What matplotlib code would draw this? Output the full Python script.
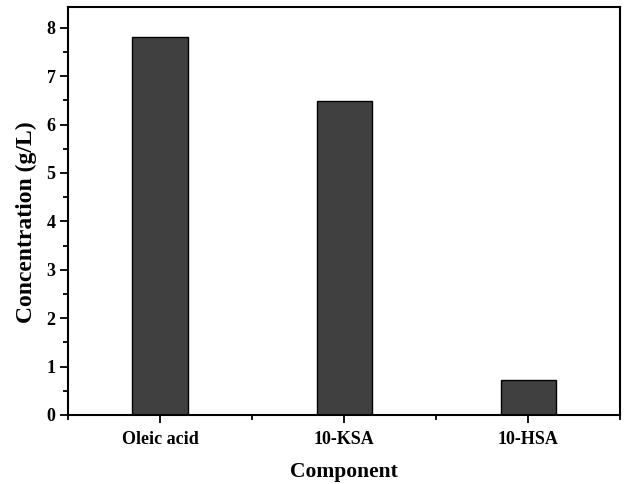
import numpy as np
import matplotlib.pyplot as plt
from matplotlib.ticker import MultipleLocator

components = ["Oleic acid", "10-KSA", "10-HSA"]
conc = [7.8, 6.48, 0.72]

plt.rcParams['font.family'] = 'Liberation Serif'
plt.rcParams['font.weight'] = 'bold'

fig = plt.figure(figsize=(6.24, 4.84), dpi=100)
ax = fig.add_axes([0.109, 0.1426, 0.885, 0.843])

x = np.arange(len(components))
ax.bar(x, conc, width=0.3, color='#404040', edgecolor='black', linewidth=1)

ax.set_xlim(-0.5, 2.5)
ax.set_ylim(0, 8.43)
ax.set_xticks(x)
ax.set_xticklabels(components, fontsize=13, fontweight='bold')
ax.xaxis.set_minor_locator(MultipleLocator(1, offset=0.5))
ax.yaxis.set_major_locator(MultipleLocator(1))
ax.yaxis.set_minor_locator(MultipleLocator(0.5))
for lbl in ax.get_yticklabels():
    lbl.set_fontsize(13)
    lbl.set_fontweight('bold')

ax.tick_params(which='major', direction='out', length=6, width=1.3)
ax.tick_params(which='minor', direction='out', length=3.5, width=1.3)
ax.tick_params(axis='x', pad=5.5)
ax.tick_params(axis='y', pad=3)
for s in ax.spines.values():
    s.set_linewidth(1.5)

ax.set_xlabel("Component", fontsize=15.5, fontweight='bold', labelpad=10)
ax.set_ylabel("Concentration (g/L)", fontsize=17, fontweight='bold', labelpad=7)
ax.yaxis.label.set_y(0.473)

fig.savefig("out.png", dpi=100)
